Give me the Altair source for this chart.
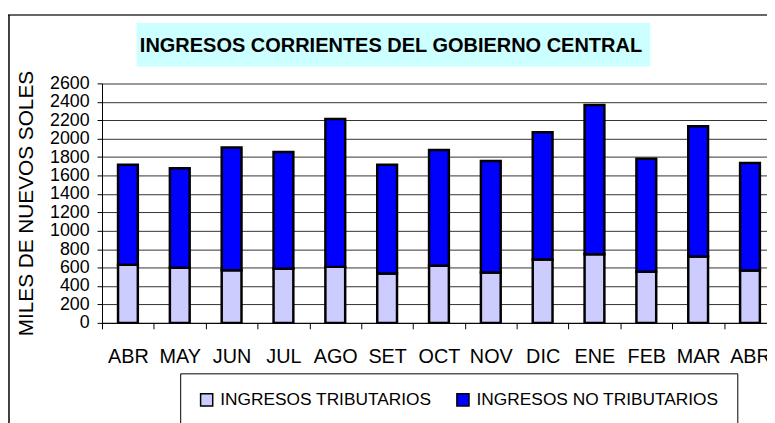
import altair as alt
import pandas as pd

months = ["ABR", "MAY", "JUN", "JUL", "AGO", "SET", "OCT", "NOV", "DIC", "ENE", "FEB", "MAR", "ABR"]
tributarios = [630, 598, 572, 587, 608, 536, 619, 547, 688, 745, 554, 720, 569]
no_tributarios = [1087, 1080, 1333, 1267, 1606, 1181, 1257, 1210, 1382, 1620, 1228, 1415, 1166]
series = ["INGRESOS TRIBUTARIOS", "INGRESOS NO TRIBUTARIOS"]
colors = ["#CCCCFF", "#0000FF"]
y_ticks = list(range(0, 2601, 200))
title_text = "INGRESOS CORRIENTES DEL GOBIERNO CENTRAL"
y_title = "MILES DE NUEVOS SOLES"

keys = [f"{m}|{i}" for i, m in enumerate(months)]
rows = []
for k, m, t, n in zip(keys, months, tributarios, no_tributarios):
    rows.append({"key": k, "mes": m, "serie": series[0], "valor": t, "orden": 0})
    rows.append({"key": k, "mes": m, "serie": series[1], "valor": n, "orden": 1})
df = pd.DataFrame(rows)

SANS = "'Liberation Sans', Arial, sans-serif"

bars = alt.Chart(df).mark_bar(size=20, stroke="black", strokeWidth=2.5).encode(
    x=alt.X(
        "key:N",
        sort=keys,
        scale=alt.Scale(domain=keys, range=[0, 681], paddingInner=0, paddingOuter=0),
        axis=alt.Axis(
            title=None,
            labelExpr="isValid(datum.value) ? split(datum.value, '|')[0] : ''",
            labelAngle=0,
            labelFontSize=20,
            labelFont=SANS,
            labelColor="black",
            labelPadding=18,
            tickBand="extent",
            tickSize=6,
            tickColor="black",
            domainColor="black",
            grid=False,
        ),
    ),
    y=alt.Y(
        "valor:Q",
        stack="zero",
        scale=alt.Scale(domain=[0, 2600], nice=False),
        axis=alt.Axis(
            values=y_ticks,
            format="d",
            title=y_title,
            titleFont=SANS,
            titleFontSize=21,
            titleFontWeight="normal",
            titleColor="black",
            titleAngle=270,
            titleX=-70,
            titleY=121,
            titleAlign="center",
            titleBaseline="alphabetic",
            labelFontSize=18,
            labelFont=SANS,
            labelColor="black",
            labelPadding=8,
            labelOverlap=False,
            tickSize=5,
            tickColor="black",
            domainColor="black",
            grid=True,
            gridColor={"condition": {"test": "datum.value === 2600", "value": "#999999"}, "value": "#333333"},
            gridWidth={"condition": {"test": "datum.value === 2600", "value": 2}, "value": 1},
        ),
    ),
    color=alt.Color(
        "serie:N",
        sort=series,
        scale=alt.Scale(domain=series, range=colors),
        legend=alt.Legend(
            title=None,
            orient="none",
            legendX=79,
            legendY=293,
            direction="horizontal",
            symbolType="square",
            symbolSize=150,
            symbolStrokeColor="black",
            symbolStrokeWidth=1.5,
            strokeColor="black",
            fillColor="white",
            padding=18,
            labelFont=SANS,
            labelFontSize=17.5,
            labelColor="black",
            labelOffset=5,
            labelLimit=400,
            columnPadding=21,
        ),
    ),
    order=alt.Order("orden:Q"),
)

one = pd.DataFrame({"a": [0]})
frame_top = alt.Chart(one).mark_rule(color="#333333", strokeWidth=1.5).encode(
    x=alt.value(-95), x2=alt.value(700), y=alt.value(-69)
)
frame_left = alt.Chart(one).mark_rule(color="black", strokeWidth=1.5).encode(
    x=alt.value(-94), y=alt.value(-69), y2=alt.value(400)
)
title_box = alt.Chart(one).mark_rect(color="#CCFFFF").encode(
    x=alt.value(35), x2=alt.value(554), y=alt.value(-61), y2=alt.value(-17)
)
title = alt.Chart(one).mark_text(
    font=SANS, fontSize=20.2, fontWeight="bold", color="black", align="center", baseline="alphabetic"
).encode(x=alt.value(292), y=alt.value(-32), text=alt.value(title_text))

chart = alt.layer(frame_top, frame_left, title_box, title, bars).properties(
    width=672,
    height=242,
    autosize=alt.AutoSizeParams(type="none"),
    padding={"left": 95, "top": 74, "right": 0, "bottom": 99},
).configure_view(fill="#FFFFCC", stroke=None).configure(font=SANS)

chart.save("out.html", embed_options={"renderer": "svg", "actions": False})
